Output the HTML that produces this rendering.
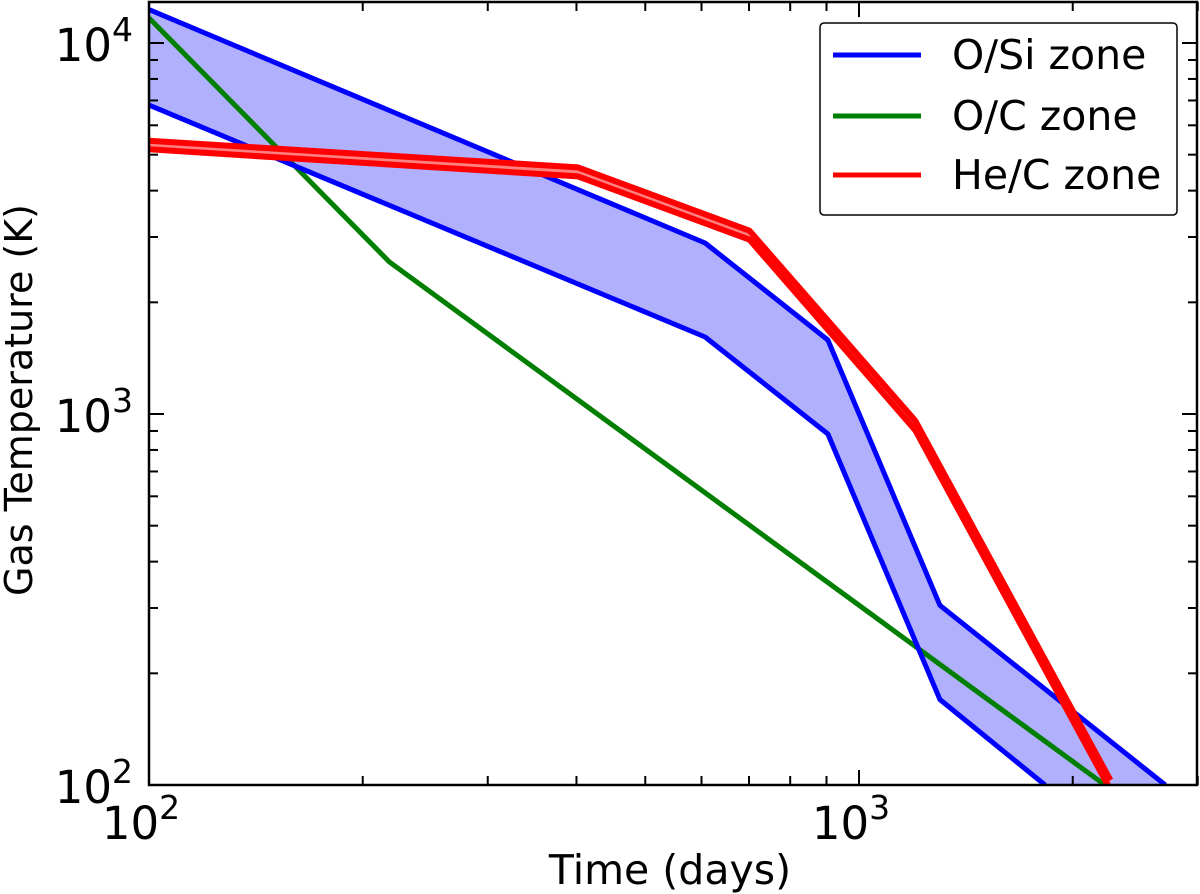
<!DOCTYPE html>
<html><head><meta charset="utf-8"><style>
body{margin:0;background:#fff;}
svg{display:block;font-family:"DejaVu Sans","Liberation Sans",sans-serif;}
</style></head><body>
<svg id="chart" width="1200" height="894"></svg>
<script>
const blueUpperX=[100,607,904,1300,2700];
const blueUpperT=[12300,2890,1583,305,100];
const blueLowerX=[100,607,904,1300,1828];
const blueLowerT=[6800,1613,883,170,100];
const greenX=[100,218,2220];
const greenT=[11680,2570,100];
const redX=[100,402,701,1200,2260];
const redUpperT=[5450,4620,3120,960,103];
const redLowerT=[5170,4370,2950,905,97];
const xMajor=[100,1000];
const xMajorLabels=["2","3"];
const yMajor=[100,1000,10000];
const yMajorLabels=["2","3","4"];

const L=149,R=1197,T=2,B=785;
const xmin=100,xmax=3000,ymin=100,ymax=12900;
const xs=v=>L+(Math.log10(v)-Math.log10(xmin))*710;
const ys=v=>B-(Math.log10(v)-Math.log10(ymin))*371;
const NS="http://www.w3.org/2000/svg";
const svg=document.getElementById('chart');
function mk(tag,attrs,parent){const e=document.createElementNS(NS,tag);for(const k in attrs)e.setAttribute(k,attrs[k]);(parent||svg).appendChild(e);return e;}
const defs=mk('defs',{});
const cp=mk('clipPath',{id:'clip'},defs);
mk('rect',{x:L,y:T,width:R-L,height:B-T},cp);
const plot=mk('g',{'clip-path':'url(#clip)'});


function pts(X,Y){return X.map((x,i)=>xs(x).toFixed(1)+','+ys(Y[i]).toFixed(1));}
const bf=mk('polygon',{points:pts(blueUpperX,blueUpperT).concat(pts(blueLowerX,blueLowerT).reverse()).join(' '),fill:'#b0b0fc',stroke:'none'},plot);


const g1=mk('polyline',{points:pts(greenX,greenT).join(' '),fill:'none',stroke:'#007f00','stroke-width':5,'stroke-linejoin':'round'},plot);


const bu=mk('polyline',{points:pts(blueUpperX,blueUpperT).join(' '),fill:'none',stroke:'#0000ff','stroke-width':5,'stroke-linejoin':'round'},plot);


const bl=mk('polyline',{points:pts(blueLowerX,blueLowerT).join(' '),fill:'none',stroke:'#0000ff','stroke-width':5,'stroke-linejoin':'round'},plot);


const rf=mk('polygon',{points:pts(redX,redUpperT).concat(pts(redX,redLowerT).reverse()).join(' '),fill:'#ff8080',stroke:'none'},plot);


const ru=mk('polyline',{points:pts(redX,redUpperT).join(' '),fill:'none',stroke:'#ff0000','stroke-width':6,'stroke-linejoin':'round'},plot);


const rl=mk('polyline',{points:pts(redX,redLowerT).join(' '),fill:'none',stroke:'#ff0000','stroke-width':6,'stroke-linejoin':'round'},plot);


const fr=mk('rect',{x:L,y:T,width:R-L,height:B-T,fill:'none',stroke:'#000','stroke-width':2.5});


const tg=mk('g',{stroke:'#000','stroke-width':2});


for(let d=100;d<=1000;d*=10){for(let m=1;m<=9;m++){const v=d*m;if(v<xmin||v>xmax)continue;const x=xs(v),len=m===1?15:9;
 mk('line',{x1:x,y1:B,x2:x,y2:B-len},tg);mk('line',{x1:x,y1:T,x2:x,y2:T+len},tg);}}
for(let d=100;d<=10000;d*=10){for(let m=1;m<=9;m++){const v=d*m;if(v<ymin||v>ymax)continue;const y=ys(v),len=m===1?15:9;
 mk('line',{x1:L,y1:y,x2:L+len,y2:y},tg);mk('line',{x1:R,y1:y,x2:R-len,y2:y},tg);}}
xMajor.forEach((v,i)=>{const t=mk('text',{x:xs(v)-8,y:B+54,'text-anchor':'middle','font-size':45,fill:'#000'});
 
 
 t.textContent='10';const s=mk('tspan',{dy:-20,'font-size':33},t);s.textContent=xMajorLabels[i];});
yMajor.forEach((v,i)=>{const t=mk('text',{x:L-16,y:ys(v)+18,'text-anchor':'end','font-size':45,fill:'#000'});
 
 
 t.textContent='10';const s=mk('tspan',{dy:-20,'font-size':33},t);s.textContent=yMajorLabels[i];});
const xt=mk('text',{x:670,y:884,'text-anchor':'middle','font-size':41,fill:'#000'});


xt.textContent='Time (days)';
const yt=mk('text',{x:0,y:0,'text-anchor':'middle','font-size':38,fill:'#000',transform:'translate(32,400) rotate(-90)'});


yt.textContent='Gas Temperature (K)';
const lg=mk('g',{});


mk('rect',{x:820,y:23,width:357,height:192,rx:4,fill:'#fff',stroke:'#000','stroke-width':1.5},lg);
const entries=[['O/Si zone','#0000ff',55],['O/C zone','#007f00',116],['He/C zone','#ff0000',175]];
entries.forEach(e=>{const ge=mk('g',{},lg);
 
 
 mk('line',{x1:833,y1:e[2],x2:921,y2:e[2],stroke:e[1],'stroke-width':5},ge);
 const t=mk('text',{x:952,y:e[2]+14,'font-size':41,fill:'#000'},ge);t.textContent=e[0];});
</script>
</body></html>
